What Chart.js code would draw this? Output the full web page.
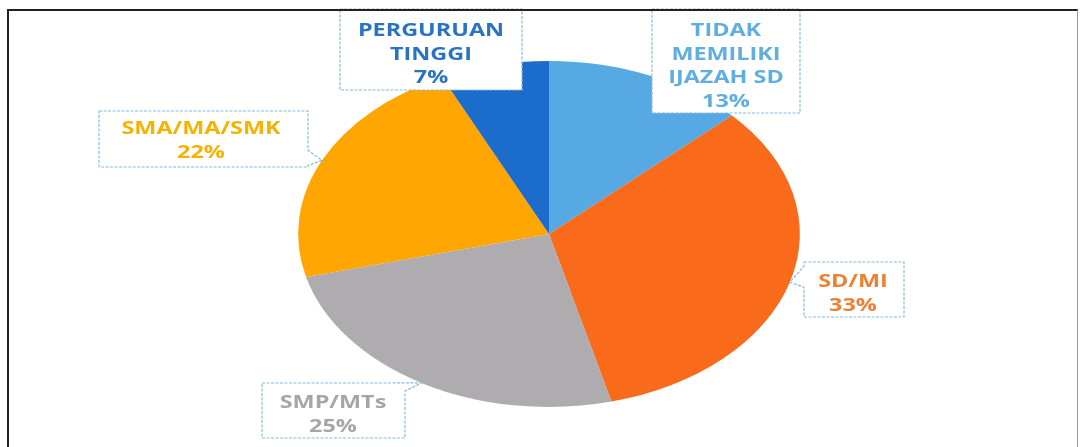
<!DOCTYPE html>
<html>
<head>
<meta charset="utf-8">
<script src="https://cdn.jsdelivr.net/npm/chart.js@4/dist/chart.umd.min.js"></script>
<style>
  html, body { margin: 0; padding: 0; background: #fff; }
  #wrap { position: relative; width: 1080px; height: 447px; overflow: hidden; }
  #frame { position: absolute; left: 7px; top: 9px; right: 2px; bottom: -5px; z-index: 2;
           border: 2px solid #222; border-bottom: none; border-right: 1px solid #999; pointer-events: none; }
  #pie { position: absolute; left: 0; top: 0; }
</style>
</head>
<body>
<div id="wrap">
  <div id="frame"></div>
  <canvas id="pie" width="1080" height="447"></canvas>
</div>
<script>
  // data (urutan searah jarum jam dari atas)
  const labels = ["TIDAK MEMILIKI IJAZAH SD", "SD/MI", "SMP/MTs", "SMA/MA/SMK", "PERGURUAN TINGGI"];
  const values = [13, 33, 25, 22, 7];
  const labelLines = [
    ["TIDAK", "MEMILIKI", "IJAZAH SD"],
    ["SD/MI"],
    ["SMP/MTs"],
    ["SMA/MA/SMK"],
    ["PERGURUAN", "TINGGI"]
  ];
  const sliceColors = ["#56A9E3", "#F96A1A", "#AEACAE", "#FFA603", "#1B6CCB"];
  const textColors = ["#5FAEE0", "#EF8032", "#A6A6A6", "#F4B300", "#2A72C2"];

  // hasil scan melebar ke samping
  const SX = 1.45;

  // kotak label: [kiri, atas, kanan, bawah, tengah teks x, baris pertama y, sisi penunjuk]
  const boxes = [
    [652, 9, 800, 113, 726, 31, null],
    [804, 262, 904, 317, 853, 282, "left"],
    [262, 383, 405, 438, 333, 403, "top"],
    [99, 111, 308, 167, 201, 129, "right"],
    [340, 9, 522, 90, 431, 31, null]
  ];

  const ellipse = {
    id: "ellipse",
    beforeDatasetsDraw(chart) {
      const a = chart.getDatasetMeta(0).data[0];
      const ctx = chart.ctx;
      ctx.save();
      ctx.translate(a.x, a.y);
      ctx.scale(SX, 1);
      ctx.translate(-a.x, -a.y);
    },
    afterDatasetsDraw(chart) {
      chart.ctx.restore();
    }
  };

  const callouts = {
    id: "callouts",
    afterDraw(chart) {
      const ctx = chart.ctx;
      const arcs = chart.getDatasetMeta(0).data;
      arcs.forEach((arc, i) => {
        const [l, t, r, b, tx, ty, side] = boxes[i];
        const mid = (arc.startAngle + arc.endAngle) / 2;
        const tipX = arc.x + SX * arc.outerRadius * Math.cos(mid);
        const tipY = arc.y + arc.outerRadius * Math.sin(mid);

        ctx.save();
        ctx.fillStyle = "#fff";
        ctx.strokeStyle = "#86BCE0";
        ctx.lineWidth = 1.2;
        ctx.setLineDash([3, 1.5]);
        ctx.beginPath();
        ctx.moveTo(l, t);
        if (side === "top") {
          ctx.lineTo(r - 22, t);
          ctx.lineTo(tipX, tipY);
          ctx.lineTo(r, t + 8);
        } else {
          ctx.lineTo(r, t);
        }
        if (side === "right") {
          ctx.lineTo(r, tipY - 10);
          ctx.lineTo(tipX, tipY);
          ctx.lineTo(r, tipY + 5);
        }
        ctx.lineTo(r, b);
        ctx.lineTo(l, b);
        if (side === "left") {
          ctx.lineTo(l, tipY + 5);
          ctx.lineTo(tipX, tipY);
          ctx.lineTo(l, t + 4);
        }
        ctx.closePath();
        ctx.fill();
        ctx.stroke();
        ctx.restore();

        const lines = labelLines[i].concat([values[i] + "%"]);
        ctx.save();
        ctx.fillStyle = textColors[i];
        ctx.font = "bold 18px 'Open Sans', sans-serif";
        ctx.textAlign = "center";
        ctx.textBaseline = "middle";
        lines.forEach((s, k) => {
          ctx.save();
          ctx.translate(tx, ty + k * 23.5);
          ctx.scale(1.3, 1);
          ctx.fillText(s, 0, 0);
          ctx.restore();
        });
        ctx.restore();
      });
    }
  };

  new Chart(document.getElementById("pie"), {
    type: "pie",
    data: {
      labels: labels,
      datasets: [{ data: values, backgroundColor: sliceColors, borderWidth: 0 }]
    },
    options: {
      responsive: false,
      animation: false,
      layout: { padding: { top: 61, bottom: 40, left: 376, right: 358 } },
      plugins: { legend: { display: false }, tooltip: { enabled: false } }
    },
    plugins: [ellipse, callouts]
  });
</script>
</body>
</html>
